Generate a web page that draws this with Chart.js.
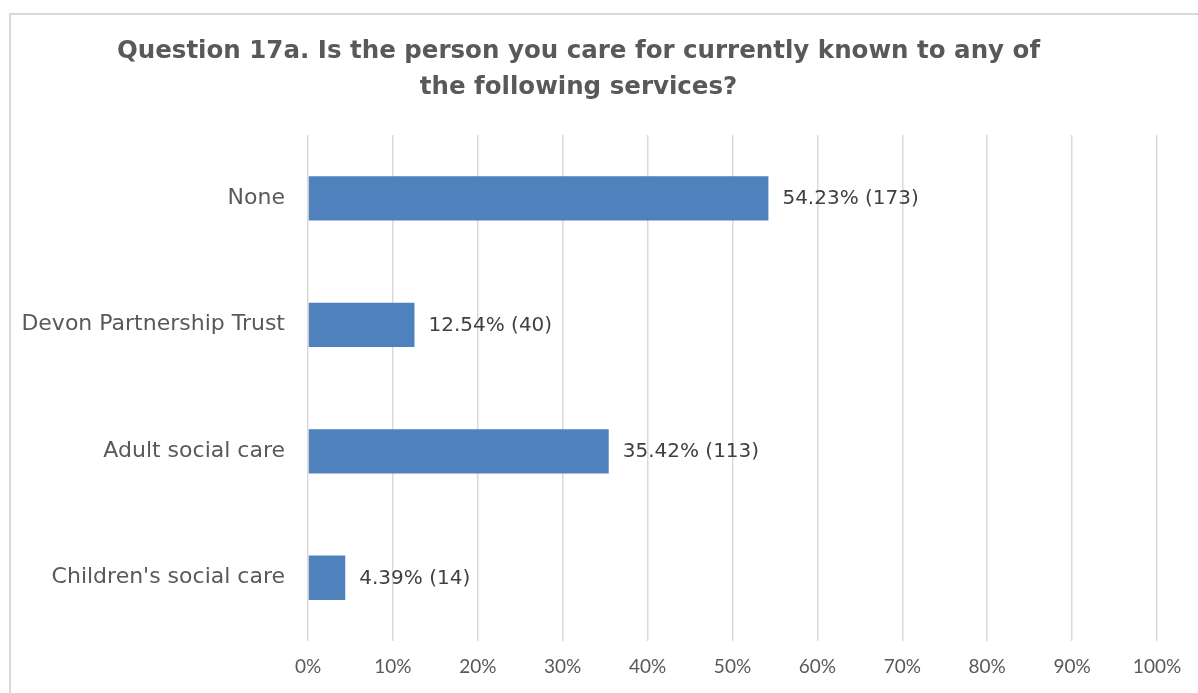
<!DOCTYPE html>
<html>
<head>
<meta charset="utf-8">
<script src="https://cdn.jsdelivr.net/npm/chart.js@4/dist/chart.umd.min.js"></script>
<style>
  html, body { margin: 0; padding: 0; background: #fff; overflow: hidden; }
  body { width: 1198px; height: 693px; position: relative; }
  #frame { position: absolute; left: 9px; top: 13px; width: 1200px; height: 700px;
           border-left: 2px solid #d9d9d9; border-top: 2px solid #d9d9d9; box-sizing: border-box; }
  #wrap { position: absolute; left: 0; top: 0; width: 1220px; height: 693px; }
</style>
</head>
<body>
<div id="frame"></div>
<div id="wrap"><canvas id="chart"></canvas></div>
<script>
// chart data
const categories = ['None', 'Devon Partnership Trust', 'Adult social care', "Children's social care"];
const percentValues = [54.23, 12.54, 35.42, 4.39];
const counts = [173, 40, 113, 14];
const xTicks = [0, 10, 20, 30, 40, 50, 60, 70, 80, 90, 100];

const FONT = '"DejaVu Sans", sans-serif';
const TICK_FONT = 'Lato, sans-serif';

// draws "54.23% (173)" after each bar
const barLabels = {
    id: 'barLabels',
    afterDatasetsDraw(chart) {
        const ctx = chart.ctx;
        const meta = chart.getDatasetMeta(0);
        ctx.save();
        ctx.font = '20px ' + FONT;
        ctx.fillStyle = '#404040';
        ctx.textBaseline = 'middle';
        meta.data.forEach((bar, i) => {
            ctx.fillText(percentValues[i].toFixed(2) + '% (' + counts[i] + ')', bar.x + 14, bar.y + 1);
        });
        ctx.restore();
    }
};

new Chart(document.getElementById('chart'), {
    type: 'bar',
    data: {
        labels: categories,
        datasets: [{
            data: percentValues,
            backgroundColor: '#4f81bd',
            barPercentage: 0.35,
            categoryPercentage: 1
        }]
    },
    plugins: [barLabels],
    options: {
        indexAxis: 'y',
        responsive: true,
        maintainAspectRatio: false,
        animation: false,
        layout: { padding: { left: 0, right: 63, top: 0, bottom: 0 } },
        plugins: {
            legend: { display: false },
            tooltip: { enabled: false },
            title: {
                display: true,
                text: ['Question 17a. Is the person you care for currently known to any of', 'the following services?'],
                color: '#595959',
                font: { family: FONT, size: 24.5, weight: 'bold', lineHeight: 1.47 },
                padding: { top: 34, bottom: 29 }
            }
        },
        scales: {
            x: {
                min: 0,
                max: 100,
                afterBuildTicks(axis) { axis.ticks = xTicks.map(v => ({ value: v })); },
                afterFit(axis) { axis.height = 52; },
                ticks: {
                    color: '#595959',
                    font: { family: TICK_FONT, size: 19 },
                    padding: 14,
                    callback: v => v + '%'
                },
                grid: { color: '#d9d9d9', lineWidth: 1.5, drawTicks: false },
                border: { display: false }
            },
            y: {
                afterFit(axis) { axis.width = 308; },
                ticks: {
                    color: '#595959',
                    font: { family: FONT, size: 22 },
                    padding: 15
                },
                grid: { display: false },
                border: { display: false }
            }
        }
    }
});
</script>
</body>
</html>
